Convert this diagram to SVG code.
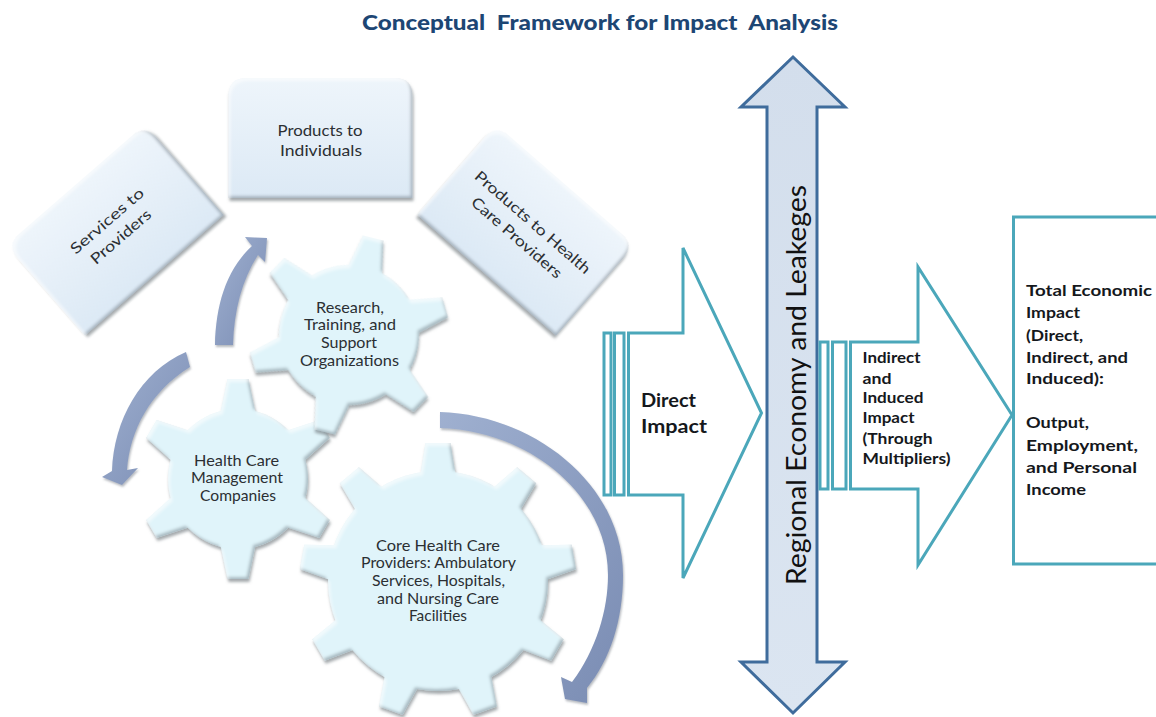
<svg xmlns="http://www.w3.org/2000/svg" width="1156" height="717" viewBox="0 0 1156 717">
<style>
text{font-family:"Lato","Open Sans","Liberation Sans",sans-serif;fill:#2b2f33;text-anchor:middle;font-size:15px;white-space:pre}
.b{font-weight:700;fill:#15181c;text-anchor:start}
.teal{fill:#fff;stroke:#4ba7ba;stroke-width:3}
.tooth{fill:#e0f4fa}
.curve{fill:url(#curveG);filter:url(#soft)}
</style>
<defs>
<linearGradient id="boxG" x1="0" y1="0" x2="0" y2="1"><stop offset="0" stop-color="#eef5fb"/><stop offset="1" stop-color="#dce9f5"/></linearGradient>
<linearGradient id="curveG" x1="0" y1="0" x2="1" y2="1"><stop offset="0" stop-color="#9fb0d0"/><stop offset="1" stop-color="#7a8cb3"/></linearGradient>
<linearGradient id="shaftG" x1="0" y1="0" x2="0" y2="1"><stop offset="0" stop-color="#d3deec"/><stop offset="1" stop-color="#dbe5f1"/></linearGradient>
<filter id="bevel" x="-15%" y="-15%" width="130%" height="130%">
<feGaussianBlur in="SourceAlpha" stdDeviation="1.8" result="blur"/>
<feOffset in="blur" dx="-2" dy="-2.5" result="o1"/>
<feComposite in="SourceAlpha" in2="o1" operator="out" result="inD"/>
<feFlood flood-color="#5d6c78" flood-opacity=".55"/><feComposite in2="inD" operator="in" result="dark"/>
<feOffset in="blur" dx="2" dy="2.5" result="o2"/>
<feComposite in="SourceAlpha" in2="o2" operator="out" result="inL"/>
<feFlood flood-color="#fff" flood-opacity=".55"/><feComposite in2="inL" operator="in" result="light"/>
<feGaussianBlur in="SourceAlpha" stdDeviation="1.6" result="b2"/>
<feOffset in="b2" dx="1" dy="3" result="o3"/>
<feFlood flood-color="#6a7378" flood-opacity=".6"/><feComposite in2="o3" operator="in" result="drop"/>
<feMerge><feMergeNode in="drop"/><feMergeNode in="SourceGraphic"/><feMergeNode in="dark"/><feMergeNode in="light"/></feMerge>
</filter>
<filter id="soft" x="-15%" y="-15%" width="130%" height="130%">
<feGaussianBlur in="SourceAlpha" stdDeviation="1.2" result="b"/>
<feOffset in="b" dx="1" dy="1.5" result="o"/>
<feFlood flood-color="#5c6470" flood-opacity=".45"/><feComposite in2="o" operator="in" result="d"/>
<feMerge><feMergeNode in="d"/><feMergeNode in="SourceGraphic"/></feMerge>
</filter>
<path id="box" fill="url(#boxG)" d="M-92,60V-42Q-92,-60-74,-60H74Q92,-60 92,-42V60Z"/>
<polygon id="toothL" class="tooth" points="-18,-104 -12.5,-138 12.5,-138 18,-104"/>
<polygon id="toothS" class="tooth" points="-18,-64 -10.5,-100 10.5,-100 18,-64"/>
</defs>
<rect width="1156" height="717" fill="#fff"/>
<text x="600" y="30" textLength="476" lengthAdjust="spacingAndGlyphs" style="font-size:21px;font-weight:900;fill:#1d4674">Conceptual  Framework for Impact  Analysis</text>

<g id="node-products-individuals">
<g filter="url(#bevel)"><use href="#box" x="320.5" y="138"/></g>
<text x="320" y="136" textLength="85" lengthAdjust="spacingAndGlyphs">Products to</text>
<text x="321" y="156" textLength="82" lengthAdjust="spacingAndGlyphs">Individuals</text>
</g>
<g id="node-services" transform="translate(115,230) rotate(-41)">
<g filter="url(#bevel)"><use href="#box"/></g>
<text x="0" y="-7" textLength="92" lengthAdjust="spacingAndGlyphs">Services to</text>
<text x="0" y="14" textLength="75" lengthAdjust="spacingAndGlyphs">Providers</text>
</g>
<g id="node-products-providers" transform="translate(526,230) rotate(41)">
<g filter="url(#bevel)"><use href="#box"/></g>
<text x="0" y="-5" textLength="148" lengthAdjust="spacingAndGlyphs">Products to Health</text>
<text x="-2" y="17" textLength="115" lengthAdjust="spacingAndGlyphs">Care Providers</text>
</g>

<g id="node-management">
<g filter="url(#bevel)" transform="translate(238,479)">
<circle r="70" class="tooth"/>
<use href="#toothS"/><use href="#toothS" transform="rotate(60)"/><use href="#toothS" transform="rotate(120)"/><use href="#toothS" transform="rotate(180)"/><use href="#toothS" transform="rotate(240)"/><use href="#toothS" transform="rotate(300)"/>
</g>
<text x="236.5" y="466" textLength="85" lengthAdjust="spacingAndGlyphs">Health Care</text>
<text x="237" y="483" textLength="92" lengthAdjust="spacingAndGlyphs">Management</text>
<text x="238" y="501" textLength="76" lengthAdjust="spacingAndGlyphs">Companies</text>
</g>
<g id="node-research">
<g filter="url(#bevel)" transform="translate(349,335) rotate(14)">
<circle r="70" class="tooth"/>
<use href="#toothS"/><use href="#toothS" transform="rotate(60)"/><use href="#toothS" transform="rotate(120)"/><use href="#toothS" transform="rotate(180)"/><use href="#toothS" transform="rotate(240)"/><use href="#toothS" transform="rotate(300)"/>
</g>
<text x="350" y="313" textLength="68" lengthAdjust="spacingAndGlyphs">Research,</text>
<text x="350" y="330" textLength="92" lengthAdjust="spacingAndGlyphs">Training, and</text>
<text x="349" y="348" textLength="56" lengthAdjust="spacingAndGlyphs">Support</text>
<text x="349.5" y="366" textLength="99" lengthAdjust="spacingAndGlyphs">Organizations</text>
</g>
<g id="node-core">
<g filter="url(#bevel)" transform="translate(438,581)">
<circle r="110" class="tooth"/>
<use href="#toothL"/><use href="#toothL" transform="rotate(40)"/><use href="#toothL" transform="rotate(80)"/><use href="#toothL" transform="rotate(120)"/><use href="#toothL" transform="rotate(160)"/><use href="#toothL" transform="rotate(200)"/><use href="#toothL" transform="rotate(240)"/><use href="#toothL" transform="rotate(280)"/><use href="#toothL" transform="rotate(320)"/>
</g>
<text x="438" y="551" textLength="124" lengthAdjust="spacingAndGlyphs">Core Health Care</text>
<text x="438.5" y="568" textLength="155" lengthAdjust="spacingAndGlyphs">Providers: Ambulatory</text>
<text x="438.5" y="586" textLength="133" lengthAdjust="spacingAndGlyphs">Services, Hospitals,</text>
<text x="438" y="604" textLength="122" lengthAdjust="spacingAndGlyphs">and Nursing Care</text>
<text x="438" y="621" textLength="58" lengthAdjust="spacingAndGlyphs">Facilities</text>
</g>

<g id="connectors">
<path class="curve" d="M215,345C216,305 226,270 252,246L245,237L267,238L265,262L258,255C242,280 234,310 233,345Z"/>
<path class="curve" d="M186,352C140,372 114,420 112,471L102,477L122,485L138,468L127,470C130,430 150,392 190,367Z"/>
<path class="curve" d="M440,412C535,415 623,485 623,575C623,620 610,660 587,688L587,703L565,699L561,677L572,682C596,650 608,610 608,575C608,495 530,431 440,428Z"/>
</g>

<g id="node-direct">
<path class="teal" d="M628.5,333H683V248L761.5,413L683,578V495H628.5Z"/>
<rect class="teal" x="604" y="333" width="7" height="162"/>
<rect class="teal" x="614.5" y="333" width="9.5" height="162"/>
<text class="b" x="641" y="407" textLength="55" lengthAdjust="spacingAndGlyphs" style="font-size:19px">Direct</text>
<text class="b" x="641" y="433" textLength="66" lengthAdjust="spacingAndGlyphs" style="font-size:19px">Impact</text>
</g>

<g id="node-regional">
<path d="M793,57L845,107H817V662H845L793,713L741,662H767V107H741Z" fill="url(#shaftG)" stroke="#3f6c9c" stroke-width="3" stroke-linejoin="miter"/>
<text transform="translate(806,385) rotate(-90)" textLength="400" lengthAdjust="spacingAndGlyphs" style="font-size:26px;fill:#111">Regional Economy and Leakeges</text>
</g>

<g id="node-indirect">
<path class="teal" d="M850.5,342H918V267L1012,415L918,565V489H850.5Z"/>
<rect class="teal" x="820" y="342" width="8" height="147"/>
<rect class="teal" x="832.5" y="342" width="13.5" height="147"/>
<text class="b" x="862.5" y="363" textLength="58" lengthAdjust="spacingAndGlyphs">Indirect</text>
<text class="b" x="862.5" y="384" textLength="29" lengthAdjust="spacingAndGlyphs">and</text>
<text class="b" x="862.5" y="403" textLength="61" lengthAdjust="spacingAndGlyphs">Induced</text>
<text class="b" x="862.5" y="423" textLength="52" lengthAdjust="spacingAndGlyphs">Impact</text>
<text class="b" x="862.5" y="444" textLength="70" lengthAdjust="spacingAndGlyphs">(Through</text>
<text class="b" x="862.5" y="464" textLength="88" lengthAdjust="spacingAndGlyphs">Multipliers)</text>
</g>

<g id="node-total">
<path class="teal" d="M1160,217H1013.5V564H1160" />
<text class="b" x="1026" y="296" textLength="126" lengthAdjust="spacingAndGlyphs" style="font-size:16px">Total Economic</text>
<text class="b" x="1026" y="318" textLength="54" lengthAdjust="spacingAndGlyphs" style="font-size:16px">Impact</text>
<text class="b" x="1026" y="341" textLength="57" lengthAdjust="spacingAndGlyphs" style="font-size:16px">(Direct,</text>
<text class="b" x="1026" y="363" textLength="102" lengthAdjust="spacingAndGlyphs" style="font-size:16px">Indirect, and</text>
<text class="b" x="1026" y="384" textLength="78" lengthAdjust="spacingAndGlyphs" style="font-size:16px">Induced):</text>
<text class="b" x="1026" y="428" textLength="63" lengthAdjust="spacingAndGlyphs" style="font-size:16px">Output,</text>
<text class="b" x="1026" y="451" textLength="112" lengthAdjust="spacingAndGlyphs" style="font-size:16px">Employment,</text>
<text class="b" x="1026" y="473" textLength="111" lengthAdjust="spacingAndGlyphs" style="font-size:16px">and Personal</text>
<text class="b" x="1026" y="495" textLength="60" lengthAdjust="spacingAndGlyphs" style="font-size:16px">Income</text>
</g>
</svg>
